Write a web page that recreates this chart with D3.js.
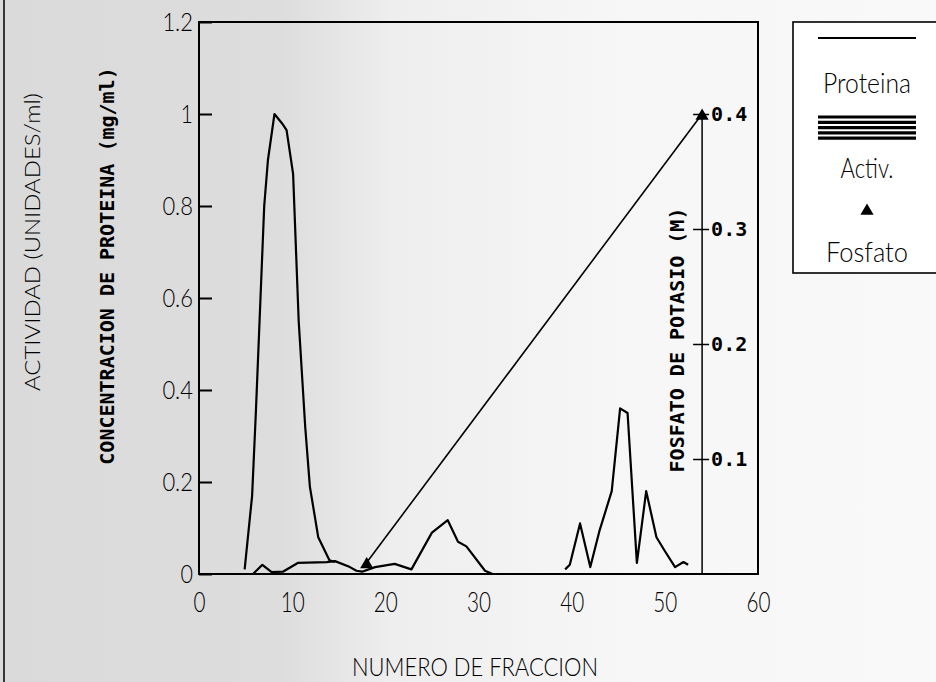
<!DOCTYPE html>
<html>
<head>
<meta charset="utf-8">
<script src="https://cdn.jsdelivr.net/npm/d3@7"></script>
<style>
    body { margin: 0; background: #fff; }
    svg { display: block; }
    .thin { font-family: Lato, "Open Sans", sans-serif; font-weight: 300; fill: #000; }
    .mono { font-family: "DejaVu Sans Mono", monospace; font-weight: bold; fill: #000; }
</style>
</head>
<body>
<div id="container"></div>
<script>
// values (fraction number -> value)
const protFrac = [4.9, 5.7, 6.1, 6.6, 7.0, 7.4, 8.1, 8.9, 9.4, 10.1, 10.7, 11.4, 11.9, 12.8, 14.0, 14.6];
const protConc = [0.01, 0.17, 0.35, 0.6, 0.8, 0.9, 1.0, 0.98, 0.965, 0.87, 0.55, 0.32, 0.19, 0.08, 0.03, 0.026];

// activity, null = gap in the trace
const actFrac = [4.9, 5.8, 6.8, 7.8, 9.0, 10.6, 13.7, 14.6, 16.2, 16.9, 17.5, 18.9, 21.0, 22.8, 25.0, 26.7, 27.8, 28.7, 30.7, 31.5,
    35, 39.3, 39.8, 40.9, 42.0, 43.0, 44.3, 45.2, 46.0, 47.0, 48.0, 49.1, 50.0, 51.1, 52.0, 52.5];
const actVal = [0, 0, 0.02, 0.004, 0.005, 0.024, 0.026, 0.028, 0.015, 0.007, 0.005, 0.015, 0.022, 0.01, 0.09, 0.117, 0.07, 0.06, 0.007, 0,
    null, 0.01, 0.02, 0.11, 0.015, 0.095, 0.18, 0.36, 0.35, 0.024, 0.18, 0.08, 0.05, 0.015, 0.026, 0.02];

// potassium phosphate gradient
const phosFrac = [18, 54];
const phosVal = [0.01, 0.4];

const xTicks = [0, 10, 20, 30, 40, 50, 60];
const yTicks = [0, 0.2, 0.4, 0.6, 0.8, 1, 1.2];
const yTickLabels = ["0", "0.2", "0.4", "0.6", "0.8", "1", "1.2"];
const pTicks = [0.1, 0.2, 0.3, 0.4];
const pTickLabels = ["0.1", "0.2", "0.3", "0.4"];
const legendLabels = ["Proteina", "Activ.", "Fosfato"];

document.addEventListener("DOMContentLoaded", () => {
    const w = 936;
    const h = 682;
    const left = 199, right = 758, top = 22, bottom = 574;

    const svg = d3.select("#container")
        .append("svg")
        .attr("width", w)
        .attr("height", h);

    // scanned-paper shading
    const grad = svg.append("defs").append("linearGradient")
        .attr("id", "paper")
        .attr("x1", 0).attr("x2", 1).attr("y1", 0).attr("y2", 0);
    [[0, "#dadada"], [0.3, "#dddddd"], [0.42, "#eeeeee"], [0.65, "#f6f6f6"], [1, "#f9f9f9"]].forEach(s => {
        grad.append("stop").attr("offset", s[0]).attr("stop-color", s[1]);
    });
    svg.append("rect").attr("width", w).attr("height", h).attr("fill", "url(#paper)");
    svg.append("line")
        .attr("x1", 4).attr("x2", 4).attr("y1", 0).attr("y2", h)
        .attr("stroke", "#000").attr("stroke-width", 1.5);

    const x = d3.scaleLinear().domain([0, 60]).range([left, right]);
    const y = d3.scaleLinear().domain([0, 1.2]).range([bottom, top]);
    const yP = d3.scaleLinear().domain([0, 0.4]).range([y(0), y(1)]);

    // condensed look for the plotter font
    const squeeze = (s, digit) => s.split("").reduce((a, c) => a + (c === "." ? digit * 0.45 : digit), 0);

    // left axis
    const yAxis = svg.append("g")
        .attr("transform", `translate(${left},0)`)
        .call(d3.axisLeft(y).tickValues(yTicks).tickSizeInner(-13).tickSizeOuter(0).tickPadding(6)
            .tickFormat((d, i) => yTickLabels[i]));
    yAxis.select(".domain").remove();
    yAxis.selectAll("line").attr("stroke-width", 2);
    yAxis.selectAll("text")
        .attr("class", "thin")
        .attr("font-size", 26)
        .attr("textLength", (d, i) => squeeze(yTickLabels[i], 12.5))
        .attr("lengthAdjust", "spacingAndGlyphs");
    yAxis.attr("font-family", null).attr("font-size", null);

    // bottom axis labels
    const xAxis = svg.append("g")
        .attr("transform", `translate(0,${bottom})`)
        .call(d3.axisBottom(x).tickValues(xTicks).tickSize(0).tickPadding(19));
    xAxis.select(".domain").remove();
    xAxis.selectAll("text")
        .attr("class", "thin")
        .attr("font-size", 27)
        .attr("textLength", d => squeeze(String(d), 12))
        .attr("lengthAdjust", "spacingAndGlyphs");
    xAxis.attr("font-family", null).attr("font-size", null);

    // frame
    svg.append("rect")
        .attr("x", left).attr("y", top)
        .attr("width", right - left).attr("height", bottom - top)
        .attr("fill", "none").attr("stroke", "#000").attr("stroke-width", 2);

    // phosphate axis inside the plot
    const pAxis = svg.append("g")
        .attr("transform", `translate(${x(54)},0)`)
        .call(d3.axisRight(yP).tickValues(pTicks).tickSizeInner(7).tickSizeOuter(0).tickPadding(2)
            .tickFormat((d, i) => pTickLabels[i]));
    pAxis.select(".domain").attr("d", `M0,${yP(0.4)}V${bottom}`).attr("stroke-width", 1.5);
    pAxis.selectAll(".tick line").attr("x1", -9).attr("stroke-width", 1.5);
    pAxis.selectAll("text").attr("class", "mono").attr("font-size", 20);
    pAxis.attr("font-family", null).attr("font-size", null);

    const line = d3.line()
        .defined(d => d[1] !== null)
        .x(d => x(d[0]))
        .y(d => y(d[1]));

    svg.append("path")
        .datum(protFrac.map((f, i) => [f, protConc[i]]))
        .attr("d", line)
        .attr("fill", "none").attr("stroke", "#000")
        .attr("stroke-width", 2.2).attr("stroke-linejoin", "round");

    svg.append("path")
        .datum(actFrac.map((f, i) => [f, actVal[i]]))
        .attr("d", line)
        .attr("fill", "none").attr("stroke", "#000")
        .attr("stroke-width", 2.2).attr("stroke-linejoin", "round");

    const phos = phosFrac.map((f, i) => [f, phosVal[i]]);
    svg.append("path")
        .datum(phos)
        .attr("d", d3.line().x(d => x(d[0])).y(d => yP(d[1])))
        .attr("fill", "none").attr("stroke", "#000").attr("stroke-width", 1.6);

    const tri = d3.symbol().type(d3.symbolTriangle).size(75);
    svg.selectAll(".phos")
        .data(phos)
        .enter().append("path")
        .attr("class", "phos")
        .attr("d", tri)
        .attr("transform", d => `translate(${x(d[0])},${yP(d[1]) + 2})`)
        .attr("fill", "#000");

    // axis titles
    svg.append("text")
        .attr("class", "thin")
        .attr("font-size", 22)
        .attr("text-anchor", "middle")
        .attr("transform", "translate(40,242) rotate(-90)")
        .attr("textLength", 298).attr("lengthAdjust", "spacingAndGlyphs")
        .text("ACTIVIDAD (UNIDADES/ml)");

    svg.append("text")
        .attr("class", "mono")
        .attr("font-size", 20)
        .attr("text-anchor", "middle")
        .attr("transform", "translate(114,266) rotate(-90)")
        .text("CONCENTRACION DE PROTEINA (mg/ml)");

    svg.append("text")
        .attr("class", "mono")
        .attr("font-size", 20)
        .attr("text-anchor", "middle")
        .attr("transform", `translate(${x(54) - 18},340) rotate(-90)`)
        .text("FOSFATO DE POTASIO (M)");

    svg.append("text")
        .attr("class", "thin")
        .attr("font-size", 26)
        .attr("text-anchor", "middle")
        .attr("x", 475).attr("y", 676)
        .attr("textLength", 246).attr("lengthAdjust", "spacingAndGlyphs")
        .text("NUMERO DE FRACCION");

    // legend
    const lg = svg.append("g");
    lg.append("rect")
        .attr("x", 793).attr("y", 22).attr("width", 160).attr("height", 251)
        .attr("fill", "#fff").attr("stroke", "#000").attr("stroke-width", 1.6);
    lg.append("line")
        .attr("x1", 818).attr("x2", 916).attr("y1", 38).attr("y2", 38)
        .attr("stroke", "#000").attr("stroke-width", 2);
    d3.range(5).forEach(i => {
        lg.append("line")
            .attr("x1", 818).attr("x2", 916)
            .attr("y1", 117 + i * 5.3).attr("y2", 117 + i * 5.3)
            .attr("stroke", "#000").attr("stroke-width", 3.2);
    });
    lg.append("path")
        .attr("d", tri)
        .attr("transform", "translate(867,211)")
        .attr("fill", "#000");
    const lgY = [93, 178, 262];
    const lgW = [88, 53, 82];
    lg.selectAll(".lgtext")
        .data(legendLabels)
        .enter().append("text")
        .attr("class", "thin lgtext")
        .attr("font-size", 27)
        .attr("text-anchor", "middle")
        .attr("x", 867)
        .attr("y", (d, i) => lgY[i])
        .attr("textLength", (d, i) => lgW[i])
        .attr("lengthAdjust", "spacingAndGlyphs")
        .text(d => d);
});
</script>
</body>
</html>
